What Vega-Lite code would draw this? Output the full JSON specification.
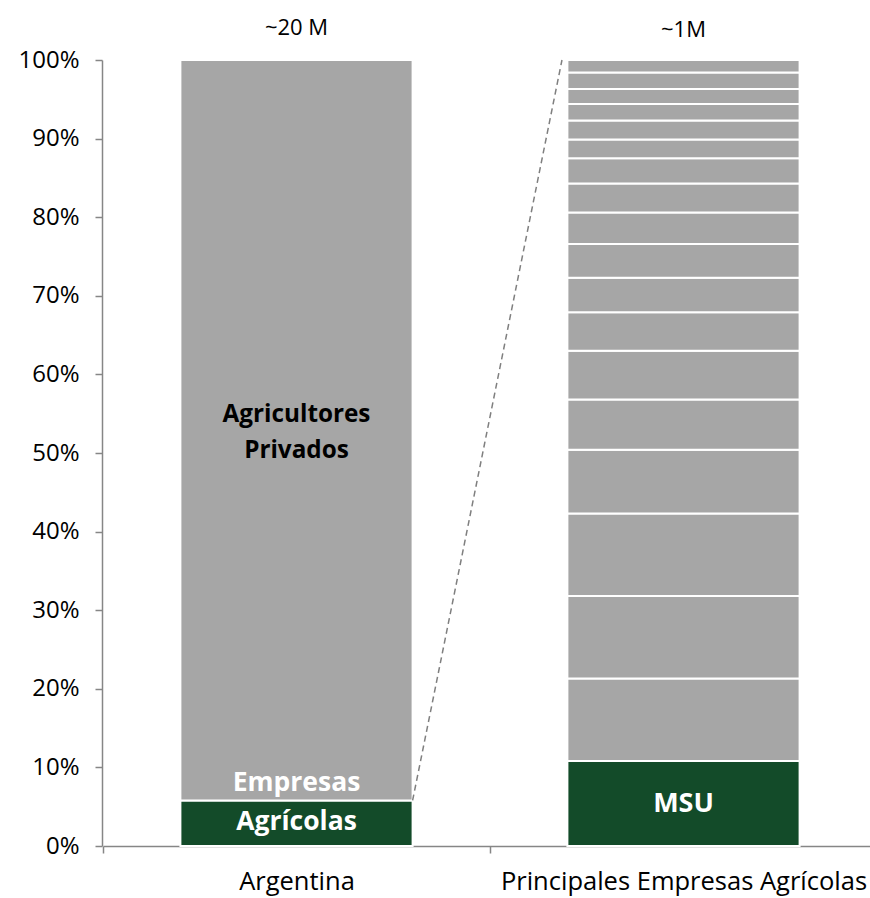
{
  "$schema": "https://vega.github.io/schema/vega-lite/v6.json",
  "width": 768,
  "height": 786,
  "autosize": {"type": "none"},
  "padding": {"left": 102, "top": 60, "right": 0, "bottom": 52},
  "background": "white",
  "config": {"view": {"stroke": null}, "font": "Open Sans"},
  "datasets": {
    "bars": [
      {"cat": "Argentina", "seg": "Empresas Agrícolas", "tipo": "verde", "orden": 1, "valor": 5.8},
      {"cat": "Argentina", "seg": "Agricultores Privados", "tipo": "gris", "orden": 2, "valor": 94.2},
      {"cat": "Principales Empresas Agrícolas", "seg": "MSU", "tipo": "verde", "orden": 1, "valor": 10.8},
      {"cat": "Principales Empresas Agrícolas", "seg": "E2", "tipo": "gris", "orden": 2, "valor": 10.5},
      {"cat": "Principales Empresas Agrícolas", "seg": "E3", "tipo": "gris", "orden": 3, "valor": 10.5},
      {"cat": "Principales Empresas Agrícolas", "seg": "E4", "tipo": "gris", "orden": 4, "valor": 10.5},
      {"cat": "Principales Empresas Agrícolas", "seg": "E5", "tipo": "gris", "orden": 5, "valor": 8.1},
      {"cat": "Principales Empresas Agrícolas", "seg": "E6", "tipo": "gris", "orden": 6, "valor": 6.4},
      {"cat": "Principales Empresas Agrícolas", "seg": "E7", "tipo": "gris", "orden": 7, "valor": 6.2},
      {"cat": "Principales Empresas Agrícolas", "seg": "E8", "tipo": "gris", "orden": 8, "valor": 4.9},
      {"cat": "Principales Empresas Agrícolas", "seg": "E9", "tipo": "gris", "orden": 9, "valor": 4.4},
      {"cat": "Principales Empresas Agrícolas", "seg": "E10", "tipo": "gris", "orden": 10, "valor": 4.3},
      {"cat": "Principales Empresas Agrícolas", "seg": "E11", "tipo": "gris", "orden": 11, "valor": 4.0},
      {"cat": "Principales Empresas Agrícolas", "seg": "E12", "tipo": "gris", "orden": 12, "valor": 3.7},
      {"cat": "Principales Empresas Agrícolas", "seg": "E13", "tipo": "gris", "orden": 13, "valor": 3.2},
      {"cat": "Principales Empresas Agrícolas", "seg": "E14", "tipo": "gris", "orden": 14, "valor": 2.4},
      {"cat": "Principales Empresas Agrícolas", "seg": "E15", "tipo": "gris", "orden": 15, "valor": 2.4},
      {"cat": "Principales Empresas Agrícolas", "seg": "E16", "tipo": "gris", "orden": 16, "valor": 2.1},
      {"cat": "Principales Empresas Agrícolas", "seg": "E17", "tipo": "gris", "orden": 17, "valor": 1.9},
      {"cat": "Principales Empresas Agrícolas", "seg": "E18", "tipo": "gris", "orden": 18, "valor": 2.1},
      {"cat": "Principales Empresas Agrícolas", "seg": "E19", "tipo": "gris", "orden": 19, "valor": 1.6}
    ],
    "white_labels": [
      {"cat": "Argentina", "y": 8.0, "texto": "Empresas"},
      {"cat": "Argentina", "y": 3.0, "texto": "Agrícolas"}
    ],
    "msu_label": [
      {"cat": "Principales Empresas Agrícolas", "y": 5.3, "texto": "MSU"}
    ],
    "dark_labels": [
      {"cat": "Argentina", "y": 54.8, "texto": "Agricultores"},
      {"cat": "Argentina", "y": 50.2, "texto": "Privados"}
    ],
    "totals": [
      {"cat": "Argentina", "y": 104.1, "texto": "~20 M"},
      {"cat": "Principales Empresas Agrícolas", "y": 103.8, "texto": "~1M"}
    ],
    "link": [
      {"desde": "Argentina", "hasta": "Principales Empresas Agrícolas", "y1": 5.8, "y2": 100}
    ]
  },
  "encoding": {
    "x": {
      "field": "cat",
      "type": "nominal",
      "title": null,
      "sort": null,
      "scale": {"domain": ["Argentina", "Principales Empresas Agrícolas"], "range": [1, 775], "paddingInner": 0, "paddingOuter": 0},
      "axis": {
        "labelAngle": 0,
        "labelFontSize": 25.5,
        "labelColor": "#000000",
        "labelPadding": 16,
        "labelLimit": 0,
        "tickBand": "extent",
        "tickSize": 7,
        "tickColor": "#868686",
        "domainColor": "#868686",
        "domainWidth": 1.5,
        "tickWidth": 1.5,
        "grid": false
      }
    }
  },
  "layer": [
    {
      "data": {"name": "bars"},
      "mark": {"type": "bar", "width": {"band": 0.6}, "stroke": "white", "strokeWidth": 2},
      "encoding": {
        "y": {
          "field": "valor",
          "type": "quantitative",
          "stack": "zero",
          "title": null,
          "scale": {"domain": [0, 100], "nice": false},
          "axis": {
            "values": [0, 10, 20, 30, 40, 50, 60, 70, 80, 90, 100],
            "labelExpr": "datum.value + '%'",
            "labelFontSize": 24,
            "labelColor": "#000000",
            "labelPadding": 16,
            "tickSize": 7,
            "tickColor": "#868686",
            "domainColor": "#868686",
            "domainWidth": 1.5,
            "tickWidth": 1.5,
            "grid": false
          }
        },
        "color": {
          "field": "tipo",
          "type": "nominal",
          "scale": {"domain": ["verde", "gris"], "range": ["#134B29", "#A6A6A6"]},
          "legend": null
        },
        "order": {"field": "orden", "type": "quantitative"}
      }
    },
    {
      "data": {"name": "link"},
      "mark": {"type": "rule", "color": "#7F7F7F", "strokeDash": [6, 4], "strokeWidth": 1.5},
      "encoding": {
        "x": {"field": "desde", "type": "nominal", "bandPosition": 0.8},
        "x2": {"field": "hasta", "bandPosition": 0.186},
        "y": {"field": "y1", "type": "quantitative"},
        "y2": {"field": "y2"}
      }
    },
    {
      "data": {"name": "white_labels"},
      "mark": {"type": "text", "color": "white", "fontWeight": "bold", "fontSize": 26.5, "baseline": "middle", "align": "center"},
      "encoding": {
        "y": {"field": "y", "type": "quantitative"},
        "text": {"field": "texto"}
      }
    },
    {
      "data": {"name": "msu_label"},
      "mark": {"type": "text", "color": "white", "fontWeight": "bold", "fontSize": 27, "baseline": "middle", "align": "center"},
      "encoding": {
        "y": {"field": "y", "type": "quantitative"},
        "text": {"field": "texto"}
      }
    },
    {
      "data": {"name": "dark_labels"},
      "mark": {"type": "text", "color": "#000000", "fontWeight": "bold", "fontSize": 24.3, "baseline": "middle", "align": "center"},
      "encoding": {
        "y": {"field": "y", "type": "quantitative"},
        "text": {"field": "texto"}
      }
    },
    {
      "data": {"name": "totals"},
      "mark": {"type": "text", "color": "#000000", "fontSize": 22, "baseline": "middle", "align": "center"},
      "encoding": {
        "y": {"field": "y", "type": "quantitative"},
        "text": {"field": "texto"}
      }
    }
  ]
}
